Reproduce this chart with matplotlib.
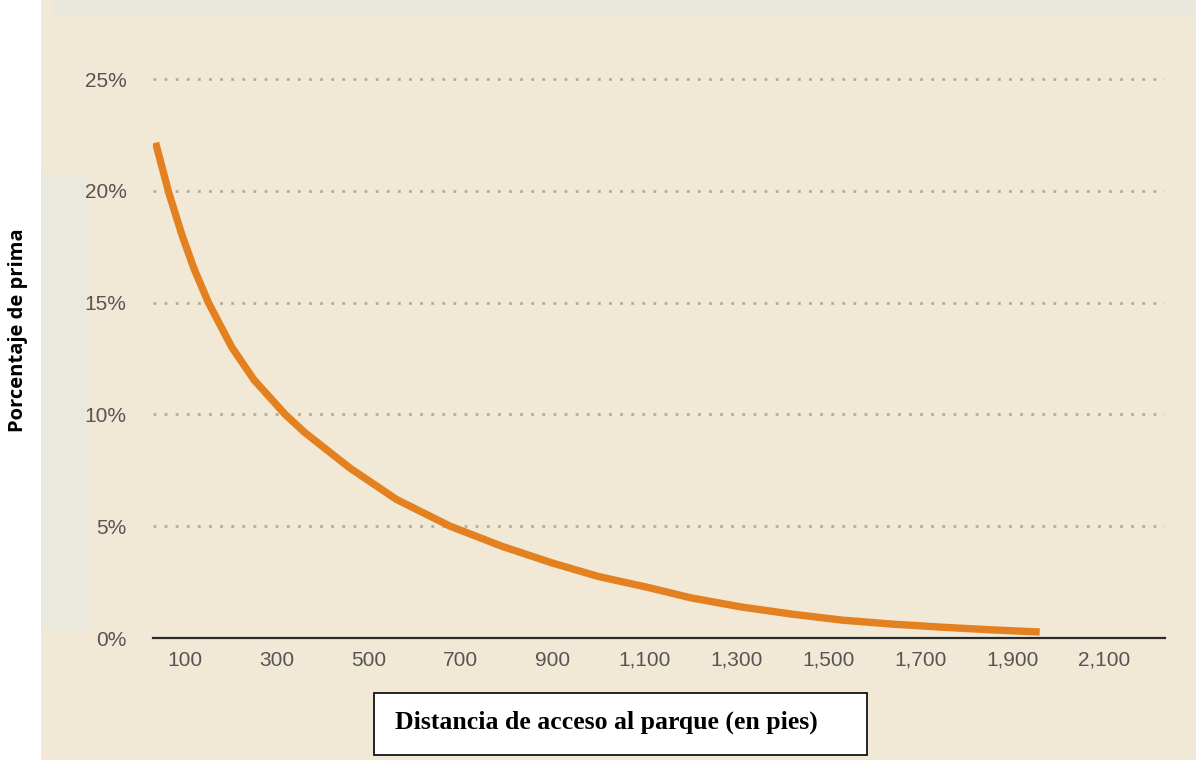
import matplotlib
matplotlib.use('Agg')
import matplotlib.pyplot as plt
from matplotlib.patches import Rectangle
from matplotlib.ticker import FuncFormatter

# values
distance_ft = [36, 65, 93, 120, 151, 202, 250, 318, 360, 459, 560, 677, 790, 900,
               1000, 1110, 1200, 1310, 1420, 1530, 1640, 1750, 1860, 1960]
premium_pct = [22.15, 19.9, 18.05, 16.5, 15.0, 13.0, 11.55, 10.0, 9.2, 7.6, 6.2, 5.0, 4.1, 3.35,
               2.75, 2.25, 1.8, 1.39, 1.07, 0.80, 0.62, 0.48, 0.36, 0.27]

x_ticks = [100, 300, 500, 700, 900, 1100, 1300, 1500, 1700, 1900, 2100]
y_ticks = [0, 5, 10, 15, 20, 25]

beige = '#f2e8d6'
orange = '#e3801f'
tick_font = ['Liberation Sans Narrow', 'Liberation Sans']

W, H = 1196, 760
fig = plt.figure(figsize=(W / 100, H / 100), dpi=100)
fig.patch.set_facecolor('white')

def px_rect(x0, y0, x1, y1, color, **kw):
    # rectangle given in pixel coords (origin top-left)
    fig.patches.append(Rectangle((x0 / W, 1 - y1 / H), (x1 - x0) / W, (y1 - y0) / H,
                                 transform=fig.transFigure, facecolor=color,
                                 zorder=0, **kw))

px_rect(41, 0, W, H, beige, edgecolor='none')
px_rect(53, 0, W, 17, '#eae7dc', edgecolor='none')
px_rect(41, 173, 89, 632, '#ebe8de', edgecolor='none')

ax = fig.add_axes([153 / W, 1 - 638 / H, (1165 - 153) / W, (638 - 60) / H])
ax.set_zorder(2)
ax.set_facecolor('none')
ax.set_xlim(30.4, 2232.7)
ax.set_ylim(0, 25.85)

for v in y_ticks[1:]:
    ax.axhline(v, color='#b3ab9e', linewidth=2, linestyle=(0, (1, 3)), zorder=1)

ax.plot(distance_ft, premium_pct, color=orange, linewidth=5.3,
        solid_capstyle='butt', solid_joinstyle='round', zorder=3)

for side in ['top', 'right', 'left']:
    ax.spines[side].set_visible(False)
ax.spines['bottom'].set_color('#2a2a2a')
ax.spines['bottom'].set_linewidth(1.6)

ax.set_xticks(x_ticks)
ax.set_xticklabels([f'{v:,}' for v in x_ticks])
ax.set_yticks(y_ticks)
ax.yaxis.set_major_formatter(FuncFormatter(lambda v, p: f'{int(v)}%'))
ax.tick_params(axis='x', length=0, pad=9, labelsize=15, labelcolor='#555555')
ax.tick_params(axis='y', length=0, pad=19, labelsize=15, labelcolor='#555555')
for lab in ax.get_xticklabels() + ax.get_yticklabels():
    lab.set_family(tick_font)

fig.text(18 / W, 1 - 330 / H, 'Porcentaje de prima', rotation=90,
         ha='center', va='center', fontsize=14.5, fontweight='bold',
         family=['Open Sans', 'DejaVu Sans'], color='black')

# x label sits in a white bordered box
px_rect(374, 693, 867, 755, 'white', edgecolor='black', linewidth=1.2)
fig.text(606 / W, 1 - 722 / H, 'Distancia de acceso al parque (en pies)',
         ha='center', va='center', fontsize=18.5, fontweight='bold',
         family=['Liberation Serif', 'DejaVu Serif'], color='black')

fig.savefig('out.png', dpi=100, facecolor=fig.get_facecolor())
